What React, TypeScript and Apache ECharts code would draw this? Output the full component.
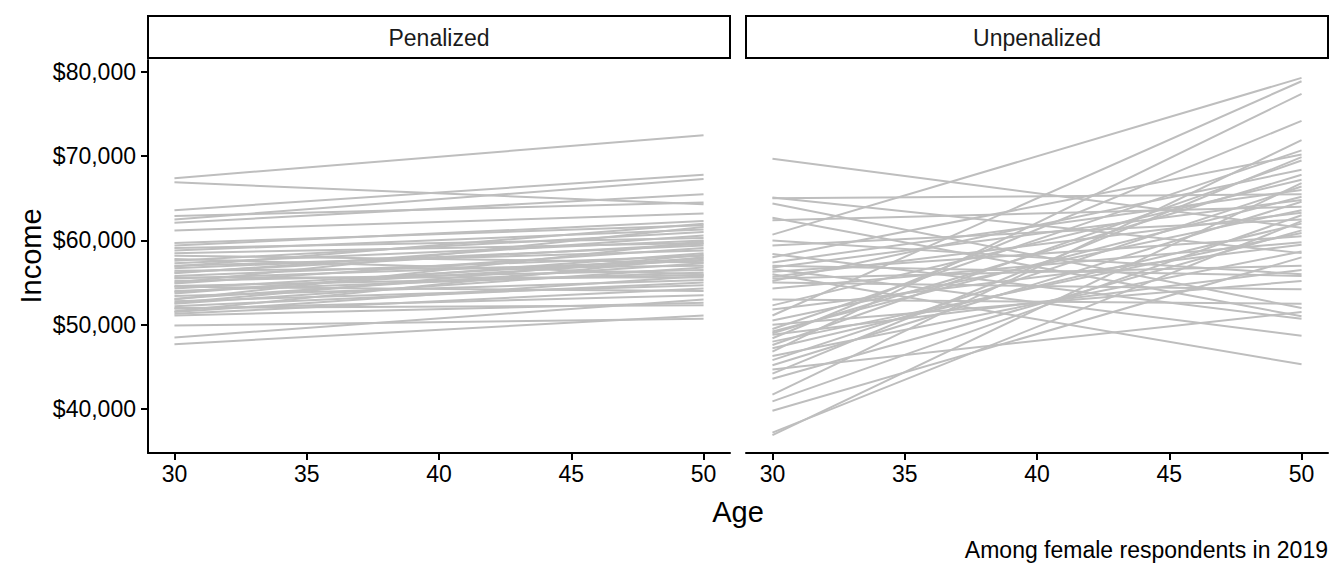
import React, { useEffect, useRef } from "react";
import * as echarts from "echarts";

const ages = [30, 50];
const xTicks = [30, 35, 40, 45, 50];
const yTicks = [40000, 50000, 60000, 70000, 80000];
const facets = ["Penalized", "Unpenalized"];

const penalizedStart = [
  67400, 66900, 63600, 62900, 62500, 62100, 61200, 59700, 59400, 59100, 58800,
  58500, 57600, 57300, 57000, 56700, 56400, 56100, 55800, 55500, 55200, 54900,
  54600, 54300, 54000, 53700, 53400, 53100, 52800, 52500, 52200, 51900, 51600,
  51300, 51100, 49900, 48500, 47700, 55000, 53000, 57800, 52000, 54500, 56900,
  53900, 55600, 52600, 56200, 58200, 51500,
];
const penalizedEnd = [
  72500, 64300, 67800, 64500, 67300, 65500, 63200, 61800, 62300, 60300, 61300,
  59700, 61000, 60000, 58800, 59400, 57000, 60600, 58200, 57600, 56500, 59100,
  55900, 57900, 56200, 58500, 55300, 57300, 54700, 56800, 55000, 53500, 58000,
  54300, 52600, 50700, 53000, 51100, 61600, 59900, 56000, 52300, 54000, 62000,
  57700, 55600, 58300, 59600, 57400, 55800,
];

const unpenalizedStart = [
  69700, 65100, 64400, 62700, 62400, 60700, 60000, 59400, 58400, 57400, 57000,
  56600, 56300, 56000, 55700, 55500, 55200, 55000, 52300, 51800, 51100, 50500,
  49500, 49200, 48800, 48400, 48000, 47600, 47200, 46800, 46300, 45800, 45200,
  44700, 44200, 43600, 41700, 40900, 39800, 37200, 36900, 53000, 58000, 54300,
  50000, 65000, 49000, 56800,
];
const unpenalizedEnd = [
  61500, 58500, 52000, 51000, 64000, 79300, 56000, 62500, 50700, 66000, 55800,
  48700, 60500, 45300, 63300, 57000, 68400, 54200, 67200, 59500, 78900, 63600,
  70700, 65200, 56500, 74200, 60900, 69500, 62000, 77400, 58700, 66400, 64600,
  51500, 69900, 61200, 71900, 63000, 58000, 62300, 66800, 52500, 70200, 59800,
  55200, 65500, 67800, 64800,
];

const FONT = "'Liberation Sans', Arial, Helvetica, sans-serif";

export default function App() {
  const ref = useRef<HTMLDivElement>(null);

  useEffect(() => {
    if (!ref.current) return;
    const chart = echarts.init(ref.current, null, { renderer: "svg" });

    const all = [...penalizedStart, ...penalizedEnd, ...unpenalizedStart, ...unpenalizedEnd];
    const dMin = Math.min(...all);
    const dMax = Math.max(...all);
    const pad = (dMax - dMin) * 0.05;
    const yMin = dMin - pad;
    const yMax = dMax + pad;

    const grids = [
      { left: 148, top: 60, width: 582, height: 393 },
      { left: 746, top: 60, width: 582, height: 393 },
    ];

    const xAxes = grids.map((_, i) => ({
      type: "value",
      gridIndex: i,
      min: 29,
      max: 51,
      splitLine: { show: false },
      axisLine: { show: true, onZero: false, lineStyle: { color: "#000", width: 2 } },
      axisTick: { show: true, length: 7, lineStyle: { color: "#000", width: 2 }, customValues: xTicks },
      axisLabel: { show: true, customValues: xTicks, color: "#000", fontSize: 23, fontFamily: FONT, margin: 9 },
    }));

    const yAxes = grids.map((_, i) => ({
      type: "value",
      gridIndex: i,
      min: yMin,
      max: yMax,
      splitLine: { show: false },
      axisLine: { show: i === 0, onZero: false, lineStyle: { color: "#000", width: 2 } },
      axisTick: { show: i === 0, length: 7, lineStyle: { color: "#000", width: 2 }, customValues: yTicks },
      axisLabel: {
        show: i === 0,
        customValues: yTicks,
        color: "#000",
        fontSize: 23,
        fontFamily: FONT,
        margin: 12,
        formatter: (v: number) => "$" + Math.round(v).toLocaleString("en-US"),
      },
    }));

    const series: any[] = [];
    const groups = [
      [penalizedStart, penalizedEnd],
      [unpenalizedStart, unpenalizedEnd],
    ];
    groups.forEach(([s, e], gi) => {
      s.forEach((v, k) => {
        series.push({
          type: "line",
          xAxisIndex: gi,
          yAxisIndex: gi,
          data: [
            [ages[0], v],
            [ages[1], e[k]],
          ],
          symbol: "none",
          silent: true,
          lineStyle: { color: "#BEBEBE", width: 2 },
        });
      });
    });

    const graphic: any[] = [];
    grids.forEach((g, i) => {
      graphic.push({
        type: "rect",
        shape: { x: g.left, y: 16, width: g.width, height: 42 },
        style: { fill: "#fff", stroke: "#000", lineWidth: 2 },
        silent: true,
      });
      graphic.push({
        type: "text",
        x: g.left + g.width / 2,
        y: 38,
        style: {
          text: facets[i],
          fontSize: 23,
          fontFamily: FONT,
          fill: "#1A1A1A",
          align: "center",
          verticalAlign: "middle",
        },
        silent: true,
      });
    });
    graphic.push({
      type: "text",
      x: 738,
      y: 512,
      style: { text: "Age", fontSize: 29, fontFamily: FONT, fill: "#000", align: "center", verticalAlign: "middle" },
    });
    graphic.push({
      type: "text",
      x: 31,
      y: 256,
      rotation: Math.PI / 2,
      style: { text: "Income", fontSize: 29, fontFamily: FONT, fill: "#000", align: "center", verticalAlign: "middle" },
    });
    graphic.push({
      type: "text",
      x: 1328,
      y: 550,
      style: {
        text: "Among female respondents in 2019",
        fontSize: 23,
        fontFamily: FONT,
        fill: "#000",
        align: "right",
        verticalAlign: "middle",
      },
    });

    chart.setOption({
      animation: false,
      backgroundColor: "#fff",
      grid: grids,
      xAxis: xAxes,
      yAxis: yAxes,
      series,
      graphic,
    });

    return () => chart.dispose();
  }, []);

  return (
    <div
      ref={ref}
      style={{ position: "fixed", left: 0, top: 0, width: 1344, height: 576 }}
    />
  );
}
